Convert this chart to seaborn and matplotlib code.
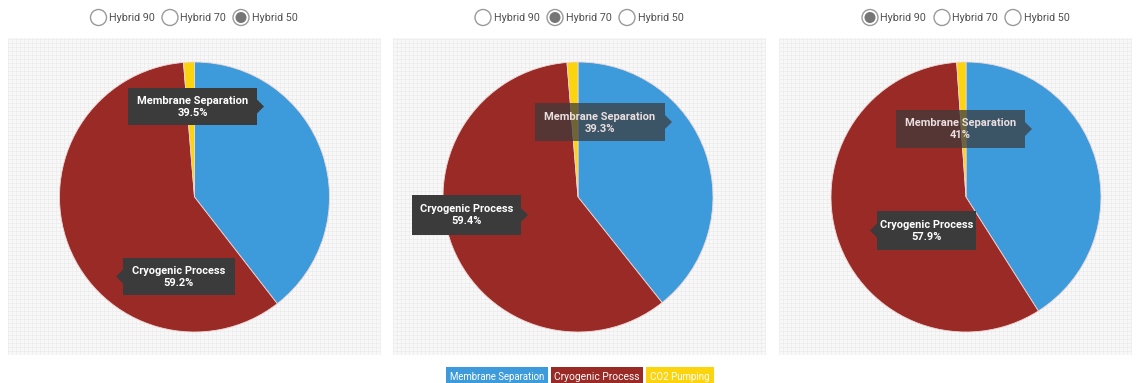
import matplotlib
matplotlib.use('Agg')
import matplotlib.pyplot as plt
import seaborn as sns
import numpy as np
from matplotlib.patches import Polygon, Circle, Rectangle

# ---- data ----
categories = ['Membrane Separation', 'Cryogenic Process', 'CO2 Pumping']
scenarios = ['Hybrid 50', 'Hybrid 70', 'Hybrid 90']   # selected scenario per panel
membrane = [39.5, 39.3, 41.0]
cryogenic = [59.2, 59.4, 57.9]
co2_pumping = [1.3, 1.3, 1.1]
radio_labels = ['Hybrid 90', 'Hybrid 70', 'Hybrid 50']

colors = ['#3d9bdb', '#9a2a26', '#fbd40e']

W, H = 1139, 383
sns.set_theme(style='white')
plt.rcParams['font.family'] = ['Roboto', 'DejaVu Sans']
plt.rcParams['font.stretch'] = 'condensed'

fig = plt.figure(figsize=(W / 100, H / 100), dpi=100)
fig.patch.set_facecolor('white')

panels = [(8, 381), (393, 766), (779, 1132)]
pie_cx = [194.5, 578, 966]
pie_cy = 197
radius = 135
top, bottom = 38, 355

for i, (x0, x1) in enumerate(panels):
    ax = fig.add_axes([x0 / W, 1 - bottom / H, (x1 - x0) / W, (bottom - top) / H])
    vals = [membrane[i], cryogenic[i], co2_pumping[i]]
    ax.pie(vals, colors=colors, startangle=90, counterclock=False,
           center=(pie_cx[i], H - pie_cy), radius=radius, frame=True,
           wedgeprops=dict(edgecolor='#efd6d6', linewidth=0.6))
    ax.set_xlim(x0, x1)
    ax.set_ylim(H - bottom, H - top)
    ax.set_facecolor('#f8f8f8')
    ax.set_xticks(np.arange(x0, x1, 4))
    ax.set_yticks(np.arange(H - bottom, H - top, 4))
    ax.tick_params(length=0, labelbottom=False, labelleft=False)
    ax.grid(True, color='#ececec', linewidth=0.5)
    ax.set_axisbelow(True)
    for s in ax.spines.values():
        s.set_visible(False)

# overlay in pixel coordinates
ov = fig.add_axes([0, 0, 1, 1], zorder=10)
ov.set_xlim(0, W)
ov.set_ylim(H, 0)
ov.axis('off')
ov.patch.set_alpha(0)

fit_list = []   # (text, target width in px)


def tooltip(x0, y0, x1, y1, side, text, alpha=1.0):
    ym = (y0 + y1) / 2
    a = 7
    if side == 'right':
        pts = [(x0, y0), (x1, y0), (x1, ym - a), (x1 + a, ym), (x1, ym + a), (x1, y1), (x0, y1)]
    else:
        pts = [(x0, y0), (x1, y0), (x1, y1), (x0, y1), (x0, ym + a), (x0 - a, ym), (x0, ym - a)]
    ov.add_patch(Polygon(pts, closed=True, fc='#3b3b3b', ec='none', alpha=alpha))
    t = ov.text((x0 + x1) / 2, ym + 0.5, text, ha='center', va='center',
                color='white' if alpha == 1 else '#eadede',
                fontsize=9.5, fontweight='bold', linespacing=1.25)
    return t


def fmt(v):
    return f"{v:g}%"

tips = [
    [(128, 88, 257, 125, 'right', 1.0), (123, 258, 235, 295, 'left', 1.0)],
    [(535, 103, 665, 141, 'right', 0.72), (412, 195, 521, 235, 'right', 1.0)],
    [(896, 110, 1025, 148, 'right', 0.72), (877, 211, 976, 250, 'left', 1.0)],
]
for i in range(3):
    m, c = tips[i]
    t = tooltip(m[0], m[1], m[2], m[3], m[4], f"{categories[0]}\n{fmt(membrane[i])}", m[5])
    fit_list.append((t, 112))
    t = tooltip(c[0], c[1], c[2], c[3], c[4], f"{categories[1]}\n{fmt(cryogenic[i])}", c[5])
    fit_list.append((t, 94))

# radio buttons
radio_x = [[98.5, 170, 241], [483, 555, 627], [870, 942, 1013]]
for i in range(3):
    for j, lab in enumerate(radio_labels):
        cx = radio_x[i][j]
        ov.add_patch(Circle((cx, 17.5), 8, fc='white', ec='#9a9a9a', lw=1.0))
        if lab == scenarios[i]:
            ov.add_patch(Circle((cx, 17.5), 5.5, fc='#767676', ec='none'))
        t = ov.text(cx + 10.5, 18, lab, ha='left', va='center', color='#505050', fontsize=9.5)
        fit_list.append((t, 46))

# legend
leg_box = [(446, 548), (551, 643), (646, 714)]
leg_w = [95, 86, 60]
for lab, col, (bx0, bx1), w in zip(categories, colors, leg_box, leg_w):
    ov.add_patch(Rectangle((bx0, 367), bx1 - bx0, 18, fc=col, ec='none'))
    t = ov.text((bx0 + bx1) / 2, 376.5, lab, ha='center', va='center', color='white', fontsize=9.5)
    fit_list.append((t, w))

# scale fonts so that text widths match the reference
fig.canvas.draw()
r = fig.canvas.get_renderer()
for t, target in fit_list:
    bb = t.get_window_extent(renderer=r)
    scale = target / max(bb.width, 1)
    t.set_fontsize(t.get_fontsize() * scale)

fig.savefig('out.png', dpi=100, facecolor='white')
